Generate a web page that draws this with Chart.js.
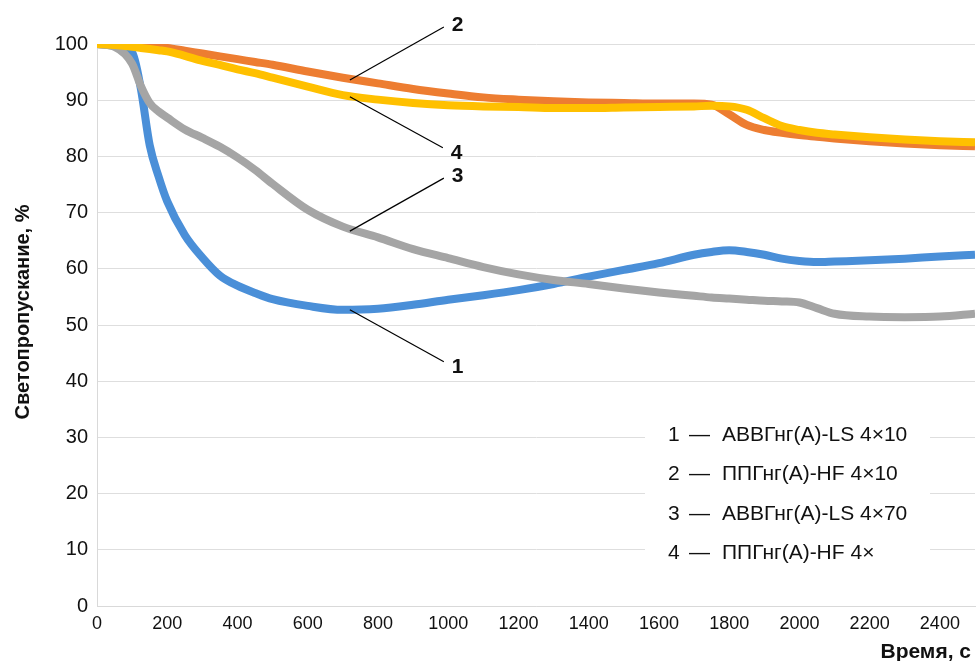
<!DOCTYPE html>
<html>
<head>
<meta charset="utf-8">
<script src="https://cdn.jsdelivr.net/npm/chart.js@4.4.1/dist/chart.umd.min.js"></script>
<style>
  body { margin: 0; background: #fff; }
  #wrap { width: 976px; height: 661px; position: relative; }
</style>
</head>
<body>
<div id="wrap"><canvas id="chart"></canvas></div>
<script>
// time, s
const times = [0, 50, 100, 125, 150, 175, 200, 250, 300, 350, 400, 450, 500, 600, 700, 800, 900, 1000,
  1100, 1200, 1300, 1400, 1500, 1600, 1700, 1750, 1800, 1850, 1900, 1950, 2000, 2050, 2100, 2200, 2300, 2400, 2500];

// light transmission, %
const series1 = [100, 99.7, 98.5, 92, 82, 76.5, 72, 66, 62, 58.8, 57, 55.7, 54.6, 53.4, 52.7, 52.9, 53.6, 54.5,
  55.3, 56.2, 57.3, 58.6, 59.8, 61, 62.5, 63, 63.3, 63, 62.5, 61.8, 61.4, 61.2, 61.3, 61.5, 61.8, 62.2, 62.5];
const series2 = [100, 99.9, 99.8, 99.7, 99.6, 99.5, 99.3, 98.8, 98.3, 97.8, 97.3, 96.8, 96.3, 95.1, 94.0, 93.0, 92.0, 91.2,
  90.5, 90.1, 89.8, 89.6, 89.5, 89.4, 89.4, 89.2, 87.5, 85.6, 84.7, 84.2, 83.8, 83.5, 83.2, 82.7, 82.3, 82.0, 81.8];
const series3 = [100, 99.5, 96.5, 92.5, 89.5, 88, 86.9, 84.8, 83.3, 81.7, 79.8, 77.6, 75.1, 70.5, 67.5, 65.6, 63.5, 61.9,
  60.3, 59.0, 58.0, 57.3, 56.5, 55.8, 55.2, 54.9, 54.7, 54.5, 54.3, 54.2, 54.0, 53.0, 52.0, 51.5, 51.4, 51.5, 52.0];
const series4 = [100, 99.8, 99.5, 99.3, 99.1, 98.9, 98.7, 97.9, 97.0, 96.3, 95.5, 94.8, 94.0, 92.4, 90.9, 90.1, 89.5, 89.1,
  88.9, 88.8, 88.6, 88.6, 88.7, 88.8, 88.9, 89.0, 88.9, 88.3, 86.8, 85.4, 84.7, 84.2, 83.9, 83.4, 83.0, 82.7, 82.5];

const seriesNames = ['1 — АВВГнг(А)-LS 4×10', '2 — ППГнг(А)-HF 4×10', '3 — АВВГнг(А)-LS 4×70', '4 — ППГнг(А)-HF 4×'];
const seriesColors = ['#4a8fd8', '#ed7d31', '#a5a5a5', '#ffc000'];
const yTicks = [0, 10, 20, 30, 40, 50, 60, 70, 80, 90, 100];
const xTicks = [0, 200, 400, 600, 800, 1000, 1200, 1400, 1600, 1800, 2000, 2200, 2400];

// callout: series number, anchor on the curve (time, %)
const callouts = [
  { label: '2', x: 720, y: 93.6, dx: 94, dy: -53 },
  { label: '4', x: 720, y: 90.6, dx: 93, dy: 51 },
  { label: '3', x: 720, y: 66.7, dx: 94, dy: -53 },
  { label: '1', x: 720, y: 52.7, dx: 94, dy: 52 },
];

const FONT = '"Liberation Sans", Arial, sans-serif';

function toPoints(ys) {
  return times.map((t, i) => ({ x: t, y: ys[i] }));
}

const allSeries = [series1, series2, series3, series4];

const overlay = {
  id: 'overlay',
  beforeDatasetsDraw(chart) {
    const ctx = chart.ctx;
    // legend box hides grid lines
    ctx.save();
    ctx.fillStyle = '#fff';
    ctx.fillRect(645, 412, 285, 160);
    ctx.restore();
  },
  afterDraw(chart) {
    const ctx = chart.ctx;
    const xs = chart.scales.x, ys = chart.scales.y;
    ctx.save();
    // legend text
    ctx.fillStyle = '#111';
    ctx.font = '21px ' + FONT;
    ctx.textBaseline = 'middle';
    ctx.textAlign = 'left';
    seriesNames.forEach((n, i) => {
      const parts = n.split(' — ');
      ctx.fillText(parts[0], 668, 435 + i * 39.5);
      ctx.fillText('—', 689, 435 + i * 39.5);
      ctx.fillText(parts[1], 722, 435 + i * 39.5);
    });

    // callouts
    ctx.strokeStyle = '#000';
    ctx.lineWidth = 1.2;
    ctx.font = 'bold 21px ' + FONT;
    callouts.forEach(c => {
      const px = xs.getPixelForValue(c.x), py = ys.getPixelForValue(c.y);
      ctx.beginPath();
      ctx.moveTo(px, py);
      ctx.lineTo(px + c.dx, py + c.dy);
      ctx.stroke();
      ctx.fillText(c.label, px + c.dx + 8, py + c.dy + (c.dy < 0 ? -2 : 5));
    });

    // axis titles
    ctx.font = 'bold 21px ' + FONT;
    ctx.textAlign = 'right';
    ctx.fillText('Время, с', 971, 652);
    ctx.font = 'bold 20px ' + FONT;
    ctx.translate(23, 312);
    ctx.rotate(-Math.PI / 2);
    ctx.textAlign = 'center';
    ctx.fillText('Светопропускание, %', 0, 0);
    ctx.restore();
  }
};

new Chart(document.getElementById('chart'), {
  type: 'line',
  data: {
    datasets: allSeries.map((s, i) => ({
      label: seriesNames[i],
      data: toPoints(s),
      borderColor: seriesColors[i],
      borderWidth: 8,
      pointRadius: 0,
      cubicInterpolationMode: 'monotone',
      order: 4 - i,
    })),
  },
  options: {
    responsive: true,
    maintainAspectRatio: false,
    animation: false,
    layout: { padding: { top: 44, right: 1, left: 0, bottom: 0 } },
    plugins: { legend: { display: false }, tooltip: { enabled: false } },
    scales: {
      x: {
        type: 'linear',
        min: 0,
        max: 2500,
        afterFit(scale) { scale.height = 55; },
        afterBuildTicks(scale) { scale.ticks = xTicks.map(v => ({ value: v })); },
        ticks: {
          color: '#111', font: { family: FONT, size: 18 }, padding: 7, maxRotation: 0,
          callback: v => String(v),
        },
        grid: { display: false, drawTicks: false },
        border: { display: true, color: '#d9d9d9' },
      },
      y: {
        min: 0,
        max: 100,
        afterFit(scale) { scale.width = 97; },
        afterBuildTicks(scale) { scale.ticks = yTicks.map(v => ({ value: v })); },
        ticks: { color: '#111', font: { family: FONT, size: 20 }, padding: 9 },
        grid: { color: '#dedede', drawTicks: false },
        border: { color: '#d9d9d9' },
      },
    },
  },
  plugins: [overlay],
});
</script>
</body>
</html>
